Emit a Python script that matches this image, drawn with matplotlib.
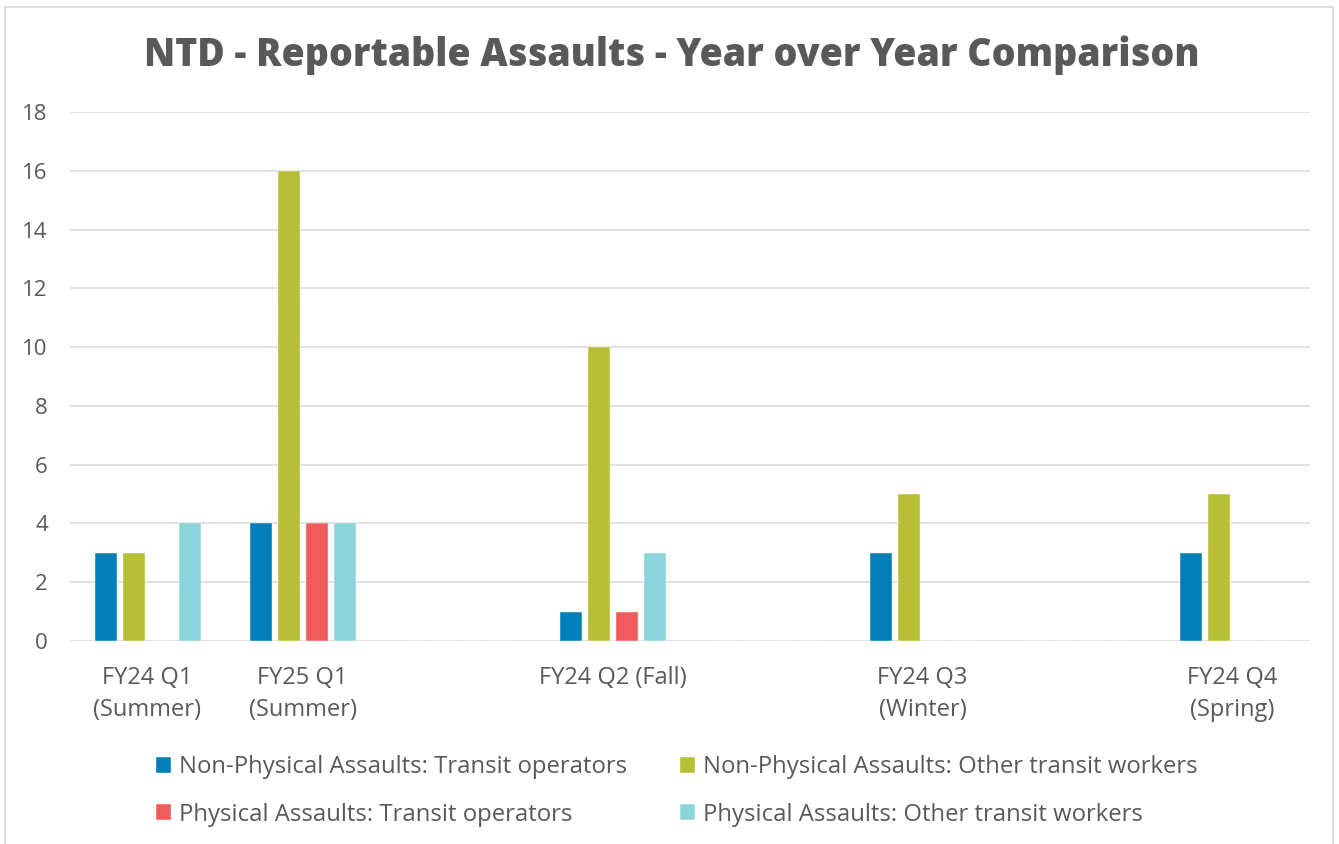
import matplotlib
matplotlib.use("Agg")
import matplotlib.pyplot as plt
from matplotlib.patches import Rectangle
import numpy as np

plt.rcParams['font.family'] = ['Open Sans', 'DejaVu Sans']

# categories (blank slots keep Excel's uneven spacing)
categories = ["FY24 Q1\n(Summer)", "FY25 Q1\n(Summer)", "", "FY24 Q2 (Fall)", "",
              "FY24 Q3\n(Winter)", "", "FY24 Q4\n(Spring)"]
np_operators = [3, 4, 0, 1, 0, 3, 0, 3]
np_other = [3, 16, 0, 10, 0, 5, 0, 5]
p_operators = [0, 4, 0, 1, 0, 0, 0, 0]
p_other = [4, 4, 0, 3, 0, 0, 0, 0]
series_names = ["Non-Physical Assaults: Transit operators",
                "Non-Physical Assaults: Other transit workers",
                "Physical Assaults: Transit operators",
                "Physical Assaults: Other transit workers"]
colors = ["#007FB9", "#B7BF34", "#F15B5C", "#8BD4DB"]
yticks = [0, 2, 4, 6, 8, 10, 12, 14, 16, 18]

W, H = 1339, 844
fig = plt.figure(figsize=(W / 100, H / 100), dpi=100)
fig.patches.append(Rectangle((5 / W, -0.02), 1328 / W, 1.02 - 7 / H,
                             transform=fig.transFigure, fill=False,
                             edgecolor="#D9D9D9", linewidth=1.2))

ax = fig.add_axes([70 / W, (H - 641) / H, (1310 - 70) / W, (641 - 112) / H])
x = np.arange(len(categories))
step = 28 / 155
width = 22 / 155
handles = []
for i, (vals, name, c) in enumerate(zip([np_operators, np_other, p_operators, p_other],
                                        series_names, colors)):
    b = ax.bar(x + (i - 1.5) * step, vals, width, color=c, label=name, zorder=3,
               edgecolor="white", linewidth=0.3)
    handles.append(b)

ax.set_ylim(0, 18)
ax.set_yticks(yticks)
ax.set_xlim(-0.5, len(categories) - 0.5)
ax.set_xticks(x)
ax.set_xticklabels(categories, fontsize=17, color="#595959", linespacing=1.45)
ax.tick_params(axis="y", labelsize=16, colors="#595959", length=0, pad=16)
ax.tick_params(axis="x", length=0, pad=18)
for lab in ax.get_yticklabels():
    lab.set_color("#595959")
ax.grid(axis="y", color="#D9D9D9", linewidth=1.1, zorder=0)
for s in ax.spines.values():
    s.set_visible(False)

fig.text(672 / W, 1 - 55 / H, "NTD - Reportable Assaults - Year over Year Comparison",
         ha="center", va="center", fontsize=27, fontweight="heavy", color="#595959")

order = [0, 2, 1, 3]
leg = fig.legend([handles[i] for i in order], [series_names[i] for i in order],
                 ncol=2, loc="center", bbox_to_anchor=(677 / W, 1 - 791 / H),
                 frameon=False, fontsize=17.2, handlelength=0.64, handleheight=0.64,
                 handletextpad=0.34, columnspacing=2.2, labelspacing=0.98,
                 borderpad=0)
for t in leg.get_texts():
    t.set_color("#595959")

fig.savefig("out.png", dpi=100)
